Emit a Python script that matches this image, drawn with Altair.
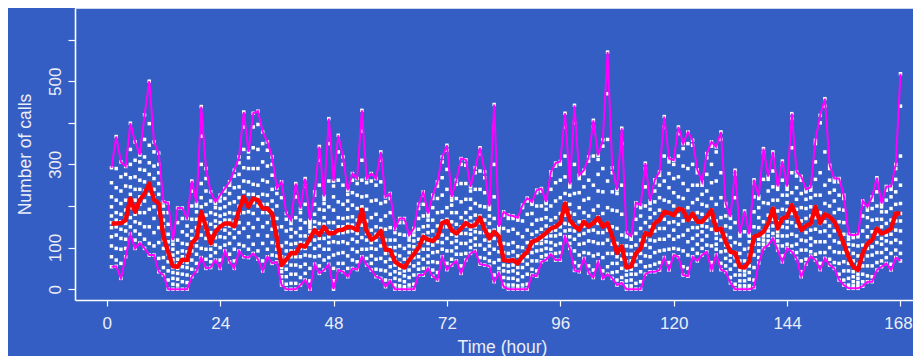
import altair as alt
import pandas as pd

HOURS = list(range(1, 169))

MAX_CALLS = [
    292, 367, 306, 295, 399, 354, 323, 419, 500, 354,
    327, 210, 207, 118, 195, 195, 170, 260, 207, 439,
    290, 234, 210, 226, 242, 258, 286, 318, 426, 330,
    423, 428, 378, 354, 318, 243, 258, 182, 166, 254,
    194, 266, 166, 234, 343, 223, 410, 260, 370, 318,
    238, 278, 266, 430, 266, 278, 266, 330, 222, 230,
    146, 170, 170, 130, 146, 204, 234, 182, 226, 258,
    318, 346, 222, 262, 314, 311, 246, 292, 340, 282,
    199, 444, 150, 186, 178, 176, 172, 202, 219, 210,
    238, 242, 210, 282, 303, 307, 423, 252, 442, 274,
    286, 318, 406, 322, 359, 570, 292, 239, 387, 135,
    127, 208, 202, 303, 212, 263, 282, 415, 314, 310,
    390, 350, 378, 358, 287, 258, 326, 354, 342, 378,
    206, 174, 286, 134, 188, 132, 263, 223, 338, 271,
    330, 247, 308, 247, 422, 282, 271, 240, 245, 358,
    418, 458, 298, 266, 266, 226, 132, 130, 132, 212,
    198, 222, 268, 206, 247, 247, 300, 518,
]

MIN_CALLS = [
    54, 55, 26, 78, 132, 98, 111, 98, 82, 82,
    42, 34, 0, 0, 0, 0, 0, 30, 44, 76,
    50, 52, 70, 50, 92, 66, 50, 92, 78, 76,
    86, 72, 44, 78, 62, 66, 10, 0, 0, 0,
    10, 22, 0, 60, 38, 46, 60, 0, 46, 42,
    30, 50, 47, 78, 58, 46, 30, 26, 6, 20,
    0, 0, 0, 0, 0, 34, 34, 50, 31, 22,
    78, 47, 58, 68, 38, 70, 86, 92, 60, 58,
    55, 18, 39, 6, 0, 0, 0, 0, 0, 34,
    31, 66, 71, 84, 70, 70, 126, 98, 45, 42,
    74, 39, 28, 66, 26, 36, 26, 10, 15, 0,
    0, 0, 0, 36, 42, 42, 46, 76, 46, 82,
    78, 34, 31, 78, 68, 82, 90, 46, 82, 47,
    42, 15, 0, 0, 0, 0, 4, 63, 98, 106,
    122, 94, 66, 98, 90, 74, 30, 60, 79, 70,
    47, 74, 58, 50, 22, 10, 2, 2, 2, 7,
    18, 18, 46, 54, 62, 46, 76, 68,
]

MEAN_CALLS = [
    158, 158, 159, 166, 218, 186, 214, 230, 254, 215,
    206, 126, 90, 55, 54, 71, 70, 111, 122, 186,
    150, 110, 138, 150, 158, 158, 151, 190, 222, 198,
    218, 214, 194, 194, 182, 122, 58, 71, 87, 86,
    106, 102, 122, 142, 130, 150, 134, 135, 142, 143,
    150, 148, 142, 191, 140, 119, 126, 140, 95, 94,
    66, 58, 52, 70, 84, 100, 126, 119, 116, 126,
    159, 164, 142, 134, 146, 159, 151, 154, 172, 143,
    122, 138, 127, 70, 68, 70, 62, 79, 90, 114,
    118, 126, 135, 146, 150, 159, 206, 166, 152, 143,
    162, 151, 159, 172, 150, 159, 126, 87, 103, 52,
    55, 86, 98, 135, 130, 159, 166, 186, 183, 178,
    194, 190, 166, 182, 162, 162, 175, 190, 142, 146,
    114, 90, 87, 54, 52, 68, 126, 130, 138, 158,
    194, 146, 170, 174, 202, 174, 142, 152, 158, 198,
    159, 180, 174, 162, 138, 110, 78, 54, 46, 86,
    110, 118, 146, 134, 138, 146, 182, 182,
]

# individual observations between the extremes, one list per hour
OBS = [
    [78, 104, 126, 148, 160, 176, 198, 222, 256],
    [70, 98, 130, 150, 166, 184, 214, 244, 290],
    [62, 96, 122, 144, 162, 180, 206, 236, 270],
    [98, 120, 140, 158, 172, 190, 214, 248, 276],
    [150, 172, 196, 210, 228, 246, 268, 300, 336],
    [118, 140, 162, 180, 196, 214, 240, 270, 310],
    [132, 158, 184, 204, 222, 240, 262, 288, 306],
    [120, 150, 184, 212, 236, 258, 286, 318, 360],
    [110, 150, 192, 228, 252, 276, 304, 346, 398],
    [104, 136, 170, 198, 220, 240, 266, 296, 330],
    [74, 112, 148, 184, 206, 228, 254, 280, 300],
    [52, 76, 98, 118, 134, 150, 166, 184, 200],
    [22, 44, 66, 84, 98, 114, 132, 156, 184],
    [12, 26, 40, 52, 60, 70, 82, 96, 108],
    [10, 24, 38, 50, 60, 72, 88, 118, 160],
    [18, 36, 54, 66, 78, 92, 110, 138, 170],
    [16, 34, 52, 64, 76, 90, 108, 130, 152],
    [48, 70, 92, 108, 122, 140, 168, 200, 236],
    [62, 84, 104, 118, 132, 148, 168, 186, 200],
    [98, 130, 158, 180, 198, 220, 254, 300, 368],
    [72, 96, 122, 144, 160, 178, 204, 236, 266],
    [66, 80, 96, 108, 120, 136, 156, 184, 212],
    [88, 106, 124, 136, 150, 164, 180, 196, 206],
    [70, 100, 126, 146, 160, 176, 194, 212, 222],
    [106, 124, 142, 154, 166, 180, 198, 218, 236],
    [84, 110, 134, 152, 166, 184, 206, 230, 250],
    [68, 96, 124, 146, 162, 182, 210, 244, 272],
    [108, 136, 160, 182, 200, 220, 246, 276, 304],
    [104, 146, 184, 212, 234, 260, 292, 336, 390],
    [96, 126, 158, 186, 206, 228, 258, 290, 316],
    [108, 148, 182, 208, 228, 252, 290, 340, 390],
    [92, 130, 168, 200, 222, 250, 290, 336, 396],
    [68, 110, 150, 184, 204, 228, 262, 306, 350],
    [96, 128, 160, 184, 204, 226, 258, 296, 334],
    [82, 112, 144, 170, 190, 212, 240, 274, 300],
    [80, 96, 110, 120, 132, 148, 170, 200, 230],
    [18, 30, 42, 52, 62, 78, 104, 150, 220],
    [12, 30, 48, 64, 76, 92, 112, 140, 168],
    [14, 36, 58, 78, 92, 108, 126, 144, 158],
    [14, 36, 58, 78, 92, 110, 136, 172, 222],
    [28, 54, 78, 98, 112, 128, 146, 166, 184],
    [38, 60, 82, 98, 110, 128, 160, 204, 248],
    [20, 50, 80, 108, 126, 138, 148, 156, 162],
    [78, 98, 118, 136, 148, 162, 180, 204, 226],
    [56, 80, 104, 122, 138, 158, 192, 250, 310],
    [70, 96, 122, 142, 156, 172, 190, 206, 216],
    [76, 96, 112, 126, 140, 160, 198, 260, 350],
    [20, 50, 82, 114, 138, 160, 190, 222, 248],
    [62, 86, 112, 134, 150, 172, 210, 262, 330],
    [62, 88, 114, 136, 150, 170, 204, 250, 300],
    [50, 80, 110, 138, 156, 172, 192, 212, 228],
    [70, 96, 120, 140, 154, 174, 202, 232, 262],
    [66, 90, 114, 134, 148, 166, 194, 226, 254],
    [96, 124, 154, 180, 198, 222, 262, 310, 380],
    [74, 96, 118, 134, 146, 164, 192, 224, 256],
    [62, 80, 98, 112, 124, 142, 172, 212, 260],
    [48, 72, 96, 118, 132, 150, 180, 214, 250],
    [46, 74, 104, 130, 146, 166, 206, 258, 310],
    [22, 44, 66, 86, 100, 118, 144, 176, 210],
    [36, 54, 72, 88, 100, 118, 148, 184, 218],
    [10, 26, 42, 58, 70, 84, 100, 118, 136],
    [8, 22, 38, 50, 62, 80, 104, 132, 160],
    [6, 18, 32, 44, 56, 72, 98, 130, 160],
    [10, 28, 46, 62, 74, 88, 104, 118, 126],
    [12, 34, 56, 76, 88, 102, 116, 130, 140],
    [48, 62, 78, 92, 104, 120, 144, 170, 194],
    [50, 72, 96, 116, 130, 150, 176, 204, 226],
    [64, 80, 96, 110, 122, 136, 152, 166, 176],
    [46, 66, 88, 106, 120, 140, 166, 196, 218],
    [40, 64, 90, 114, 130, 152, 184, 218, 248],
    [96, 112, 130, 150, 164, 186, 226, 268, 306],
    [62, 92, 122, 150, 168, 196, 240, 288, 334],
    [72, 92, 112, 132, 146, 162, 184, 202, 214],
    [84, 100, 116, 128, 138, 156, 184, 218, 252],
    [56, 84, 110, 134, 150, 172, 210, 254, 300],
    [86, 110, 134, 152, 164, 184, 216, 254, 298],
    [100, 116, 132, 144, 156, 172, 194, 216, 236],
    [106, 122, 138, 150, 160, 178, 206, 240, 280],
    [76, 106, 136, 160, 176, 200, 240, 284, 326],
    [74, 96, 118, 136, 148, 166, 198, 232, 268],
    [68, 86, 104, 116, 126, 140, 158, 176, 192],
    [34, 64, 96, 122, 142, 170, 222, 300, 390],
    [50, 70, 90, 108, 122, 132, 140, 146, 148],
    [12, 28, 44, 58, 72, 88, 110, 146, 178],
    [10, 26, 42, 56, 70, 86, 108, 140, 170],
    [10, 26, 44, 58, 72, 90, 112, 144, 170],
    [8, 22, 38, 52, 64, 80, 102, 134, 166],
    [10, 30, 52, 68, 82, 100, 126, 164, 196],
    [12, 36, 60, 78, 92, 112, 142, 180, 212],
    [48, 68, 88, 104, 116, 132, 156, 182, 204],
    [44, 68, 92, 110, 120, 138, 166, 200, 232],
    [78, 94, 110, 120, 128, 144, 168, 200, 236],
    [82, 98, 114, 126, 136, 152, 172, 192, 206],
    [96, 112, 128, 140, 148, 166, 200, 240, 274],
    [86, 106, 128, 142, 152, 172, 212, 256, 296],
    [88, 110, 132, 150, 162, 182, 220, 262, 300],
    [140, 158, 178, 196, 208, 230, 270, 320, 390],
    [110, 126, 142, 156, 168, 184, 204, 226, 246],
    [64, 92, 120, 140, 154, 180, 230, 300, 400],
    [56, 82, 108, 130, 144, 162, 196, 232, 266],
    [88, 110, 134, 152, 164, 184, 214, 246, 278],
    [56, 86, 116, 140, 152, 176, 218, 262, 308],
    [46, 80, 114, 142, 160, 190, 250, 320, 390],
    [84, 110, 136, 158, 174, 200, 236, 276, 312],
    [44, 76, 110, 136, 152, 182, 234, 290, 344],
    [54, 86, 118, 142, 160, 196, 260, 360, 470],
    [40, 62, 86, 108, 126, 150, 190, 234, 280],
    [22, 42, 62, 78, 90, 110, 146, 188, 230],
    [28, 50, 72, 90, 104, 130, 180, 250, 350],
    [8, 20, 34, 46, 54, 66, 84, 104, 126],
    [8, 22, 36, 48, 56, 68, 84, 102, 120],
    [14, 36, 58, 76, 88, 106, 134, 168, 200],
    [18, 42, 66, 86, 100, 118, 146, 176, 196],
    [54, 80, 106, 124, 136, 160, 200, 246, 290],
    [56, 78, 100, 118, 132, 150, 172, 192, 206],
    [60, 88, 116, 140, 160, 182, 210, 236, 256],
    [64, 92, 120, 146, 166, 190, 220, 250, 274],
    [94, 120, 146, 168, 186, 214, 260, 320, 390],
    [64, 96, 128, 160, 182, 210, 244, 278, 306],
    [98, 120, 142, 162, 178, 200, 232, 266, 300],
    [96, 126, 156, 178, 194, 222, 270, 320, 374],
    [54, 92, 130, 164, 190, 218, 254, 296, 338],
    [50, 82, 114, 142, 166, 196, 238, 290, 350],
    [96, 122, 148, 168, 182, 208, 250, 300, 346],
    [86, 108, 130, 148, 162, 184, 216, 250, 280],
    [98, 118, 138, 152, 162, 180, 204, 228, 250],
    [106, 128, 150, 166, 176, 200, 236, 276, 316],
    [64, 104, 144, 172, 190, 218, 256, 300, 344],
    [96, 108, 122, 134, 142, 164, 204, 260, 330],
    [62, 90, 118, 136, 146, 172, 220, 280, 360],
    [56, 74, 92, 106, 114, 130, 152, 176, 200],
    [28, 48, 68, 82, 90, 104, 124, 148, 170],
    [12, 34, 58, 76, 88, 112, 160, 220, 276],
    [8, 20, 34, 46, 54, 68, 86, 108, 128],
    [8, 20, 34, 44, 52, 68, 96, 138, 180],
    [8, 24, 40, 56, 68, 82, 98, 114, 128],
    [22, 52, 82, 108, 126, 150, 186, 222, 254],
    [76, 92, 108, 120, 130, 148, 172, 196, 218],
    [108, 118, 128, 134, 140, 162, 208, 264, 328],
    [116, 128, 140, 150, 158, 178, 206, 236, 264],
    [134, 152, 168, 184, 194, 214, 246, 284, 320],
    [104, 116, 128, 138, 146, 162, 188, 214, 240],
    [80, 104, 128, 150, 170, 192, 226, 262, 298],
    [108, 128, 148, 162, 174, 190, 208, 226, 240],
    [104, 132, 160, 182, 202, 232, 280, 340, 410],
    [88, 108, 128, 152, 174, 192, 216, 244, 272],
    [42, 68, 94, 118, 142, 164, 196, 230, 262],
    [72, 94, 116, 136, 152, 170, 194, 216, 234],
    [90, 106, 122, 142, 158, 176, 198, 220, 238],
    [84, 114, 144, 172, 198, 226, 264, 306, 350],
    [62, 88, 114, 138, 158, 184, 226, 280, 400],
    [88, 114, 140, 162, 180, 206, 250, 330, 440],
    [72, 100, 128, 152, 174, 200, 232, 262, 290],
    [64, 90, 116, 140, 162, 184, 212, 238, 258],
    [36, 62, 88, 112, 138, 162, 192, 226, 258],
    [22, 44, 66, 88, 110, 132, 160, 190, 218],
    [10, 26, 44, 62, 78, 94, 108, 120, 128],
    [8, 18, 30, 42, 54, 68, 86, 106, 124],
    [8, 16, 26, 36, 46, 60, 80, 104, 126],
    [18, 36, 56, 72, 86, 106, 140, 176, 204],
    [32, 56, 80, 98, 110, 126, 150, 172, 190],
    [30, 56, 82, 102, 118, 138, 166, 194, 214],
    [64, 88, 112, 132, 146, 168, 200, 234, 260],
    [68, 88, 108, 122, 134, 150, 168, 186, 198],
    [76, 96, 116, 130, 138, 158, 186, 214, 238],
    [60, 86, 112, 132, 146, 166, 194, 222, 240],
    [94, 118, 142, 164, 182, 204, 234, 264, 290],
    [86, 112, 140, 164, 182, 206, 250, 320, 440],
]

X_TICKS = [0, 24, 48, 72, 96, 120, 144, 168]
Y_TICKS = [0, 100, 200, 300, 400, 500, 600]
Y_LABELLED = [0, 100, 300, 500]

BG = "#345EC3"
LABEL = "#ECEEF6"
FONT = "Liberation Sans"

rows = []
for h, mx, mn, obs in zip(HOURS, MAX_CALLS, MIN_CALLS, OBS):
    for v in [mn] + obs + [mx]:
        rows.append({"hour": h, "calls": v})
pts = pd.DataFrame(rows)
lines = pd.DataFrame({"hour": HOURS, "mx": MAX_CALLS, "mn": MIN_CALLS, "mean": MEAN_CALLS})

# whole svg kept inside 905 x 348 so the page never overflows the window
W, H = 838, 292
xs = alt.Scale(domain=[-6.72, 170.65], nice=False, zero=False)
ys = alt.Scale(domain=[-26, 676], nice=False, zero=False)

lab_expr = " || ".join(f"datum.value == {v}" for v in Y_LABELLED)

x_axis = alt.Axis(
    values=X_TICKS, title="Time (hour)", grid=False,
    domainColor="white", domainWidth=1.6, tickColor="white", tickWidth=1.2, tickSize=6,
    labelColor=LABEL, labelFontSize=17, labelFont=FONT, labelPadding=9,
    labelFlush=False, labelOverlap=False,
    labelOffset={"condition": {"test": "datum.value == 168", "value": -2.5}, "value": 0},
    titleColor=LABEL, titleFontSize=17.5, titleFont=FONT, titleFontWeight="normal",
    titleX=427, titleY=52, titleBaseline="alphabetic", titleAlign="center",
)
y_axis = alt.Axis(
    values=Y_TICKS, title="Number of calls", grid=False,
    labelExpr=f"({lab_expr}) ? datum.label : ''",
    domainColor="white", domainWidth=1.6, tickColor="white", tickWidth=1.2, tickSize=7,
    labelColor=LABEL, labelFontSize=17, labelFont=FONT, labelPadding=4,
    labelAngle=270, labelAlign="center", labelBaseline="bottom",
    labelFlush=False, labelOverlap=False,
    titleColor=LABEL, titleFontSize=17.5, titleFont=FONT, titleFontWeight="normal",
    titleAngle=270, titleX=-45, titleY=146, titleBaseline="alphabetic", titleAlign="center",
)

points = alt.Chart(pts).mark_square(size=12, color="white", opacity=1, filled=True).encode(
    x=alt.X("hour:Q", scale=xs, axis=x_axis),
    y=alt.Y("calls:Q", scale=ys, axis=y_axis),
)
upper = alt.Chart(lines).mark_line(color="#FF00FF", strokeWidth=2).encode(
    x=alt.X("hour:Q", scale=xs), y=alt.Y("mx:Q", scale=ys)
)
lower = alt.Chart(lines).mark_line(color="#FF00FF", strokeWidth=2).encode(
    x=alt.X("hour:Q", scale=xs), y=alt.Y("mn:Q", scale=ys)
)
mean = alt.Chart(lines).mark_line(color="#FF0000", strokeWidth=4.4, strokeJoin="round").encode(
    x=alt.X("hour:Q", scale=xs), y=alt.Y("mean:Q", scale=ys)
)
top = alt.Chart(pd.DataFrame({"k": [0]})).mark_rule(color="white", strokeWidth=1.6).encode(
    x=alt.value(0), x2=alt.value(W), y=alt.value(0)
)

chart = alt.layer(points, upper, lower, mean, top).properties(
    width=W, height=H,
    background=BG,
    autosize=alt.AutoSizeParams(type="none"),
    padding={"left": 67, "top": 0, "right": 0, "bottom": 56},
).configure_view(stroke=None)

chart.save("out.html", embed_options={"renderer": "svg", "actions": False})
